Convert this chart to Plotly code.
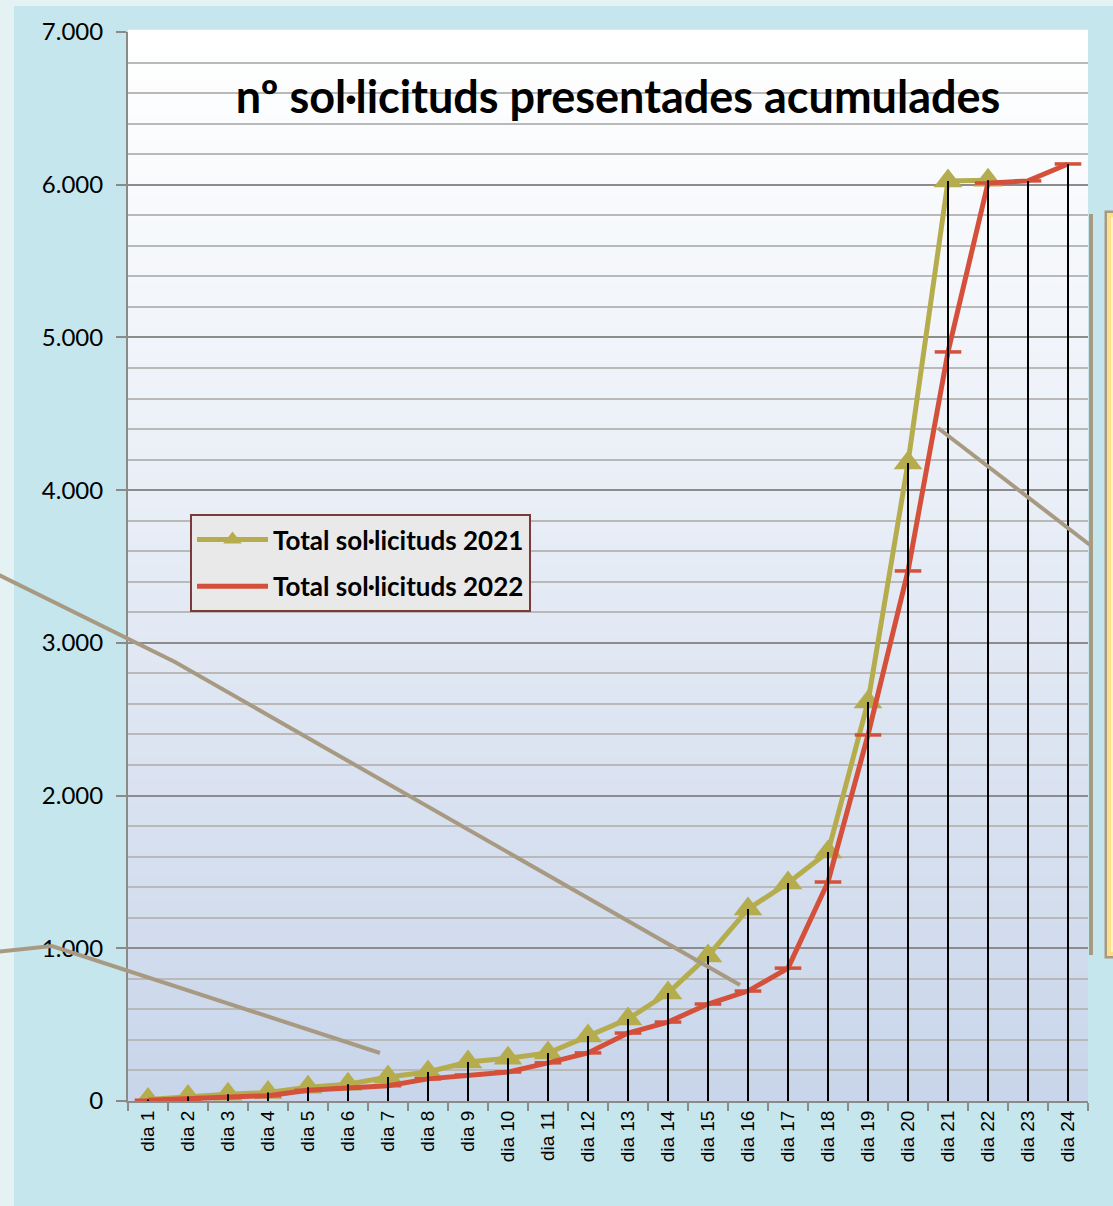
import plotly.graph_objects as go

# ---- data ----
days = [f"dia {i}" for i in range(1, 25)]
total_2021 = [10, 30, 45, 55, 90, 110, 157, 190, 255, 280, 314, 425, 537, 707, 950,
              1257, 1428, 1630, 2613, 4178, 6025, 6030, None, None]
total_2022 = [5, 15, 25, 35, 70, 85, 100, 145, 170, 190, 250, 315, 445, 517, 635,
              720, 870, 1434, 2397, 3471, 4905, 6011, 6025, 6136]
series_names = ["Total sol·licituds 2021", "Total sol·licituds 2022"]
title_text = "nº sol·licituds presentades acumulades"

OLIVE = "#b5ad4d"
RED = "#d4503a"
TAN = "#a89a82"

W, H = 1113, 1206
ML, MR, MT, MB = 128, 25, 32, 105
PW, PH = W - ML - MR, H - MT - MB


def px(x):
    return (x - ML) / PW


def py(y):
    return (H - MB - y) / PH


fig = go.Figure()

fig.add_trace(go.Scatter(
    x=days, y=total_2021, name=series_names[0], mode="lines+markers",
    line=dict(color=OLIVE, width=5),
    marker=dict(symbol="triangle-up", size=25, color=OLIVE),
    legendgroup="a",
))
fig.add_trace(go.Scatter(
    x=days, y=total_2022, name=series_names[1], mode="lines+markers",
    line=dict(color=RED, width=5),
    marker=dict(symbol="line-ew", size=19, color=RED, line=dict(color=RED, width=3.5)),
    legendgroup="b",
))

# drop lines (from highest point of each category down to the axis)
dx, dy = [], []
for d, a, b in zip(days, total_2021, total_2022):
    top = max(v for v in (a, b) if v is not None)
    dx += [d, d, None]
    dy += [0, top, None]
fig.add_trace(go.Scatter(x=dx, y=dy, mode="lines", line=dict(color="black", width=2),
                         showlegend=False, hoverinfo="skip"))

shapes = []
# cyan slide panel
shapes.append(dict(type="rect", xref="paper", yref="paper", layer="below",
                   x0=px(14), x1=px(W + 20), y0=py(H + 20), y1=py(6),
                   fillcolor="#c5e6ec", line=dict(width=0)))
# plot-area vertical gradient (white -> light blue)
N = 90
top_c = (255, 255, 255)
bot_c = (200, 213, 234)
for i in range(N):
    t = (i + 0.5) / N  # 0 at bottom
    f = (1 - t) ** 1.1
    c = tuple(round(top_c[k] + (bot_c[k] - top_c[k]) * f) for k in range(3))
    shapes.append(dict(type="rect", xref="paper", yref="paper", layer="below",
                       x0=0, x1=1, y0=i / N, y1=(i + 1) / N + 0.002,
                       fillcolor="rgb(%d,%d,%d)" % c, line=dict(width=0)))


# decorative callout lines
def poly(pts, width=4, color=TAN):
    path = "M " + " L ".join(f"{px(x)},{py(y)}" for x, y in pts)
    return dict(type="path", xref="paper", yref="paper", layer="above", path=path,
                line=dict(color=color, width=width))


shapes.append(poly([(-5, 573), (175, 662), (740, 985)]))
shapes.append(poly([(-5, 952), (52, 946), (380, 1053)]))
shapes.append(poly([(938, 428), (1090, 545)]))
# right-side decorations
shapes.append(dict(type="rect", xref="paper", yref="paper", layer="above",
                   x0=px(1089), x1=px(1093), y0=py(955), y1=py(214),
                   fillcolor=TAN, line=dict(width=0)))
shapes.append(dict(type="rect", xref="paper", yref="paper", layer="above",
                   x0=px(1106), x1=px(1130), y0=py(957), y1=py(212),
                   fillcolor="#fdf3d0", line=dict(color=TAN, width=3)))
shapes.append(dict(type="rect", xref="paper", yref="paper", layer="above",
                   x0=px(1109), x1=px(1130), y0=py(954), y1=py(215),
                   fillcolor="rgba(0,0,0,0)", line=dict(color="#ffe08a", width=4)))

fig.update_layout(
    width=W, height=H,
    margin=dict(l=ML, r=MR, t=MT, b=MB, autoexpand=False),
    paper_bgcolor="#e4f2f3",
    plot_bgcolor="rgba(0,0,0,0)",
    separators=",.",
    shapes=shapes,
    title=dict(text=title_text, x=618 / W, xanchor="center", y=1 - 97 / H, yanchor="middle",
               font=dict(family="Lato", size=45, color="black", weight="bold")),
    legend=dict(x=px(190), y=py(514), xanchor="left", yanchor="top",
                bgcolor="#e9e9ea", bordercolor="#7a3a3a", borderwidth=2,
                font=dict(family="Lato", size=26, color="black", weight="bold"),
                tracegroupgap=10, itemwidth=71,
                entrywidth=295, entrywidthmode="pixels"),
    showlegend=True,
)

fig.update_xaxes(
    type="category", range=[-0.5, 23.5],
    showgrid=False, showline=True, linecolor="#8a8a8a", linewidth=2,
    ticks="outside", tickson="boundaries", ticklen=8, tickcolor="#8a8a8a", tickwidth=2,
    tickangle=-90, tickfont=dict(family="Liberation Sans", size=19, color="black"),
)
fig.update_yaxes(
    range=[0, 7000], dtick=1000, tickformat=",",
    showgrid=True, gridcolor="#8c8c8c", gridwidth=1.5,
    minor=dict(dtick=200, showgrid=True, gridcolor="#b9b9b9", gridwidth=1.5),
    showline=True, linecolor="#8a8a8a", linewidth=2,
    ticks="outside", ticklen=10, tickcolor="#8a8a8a", tickwidth=2,
    tickfont=dict(family="Lato", size=24, color="black"),
    ticklabelstandoff=8,
    zeroline=False,
)

fig.write_html(
    "out.html",
    config={"displayModeBar": False},
    post_script="document.body.style.margin='0';document.body.style.padding='0';"
                "document.documentElement.style.overflow='hidden';",
)
